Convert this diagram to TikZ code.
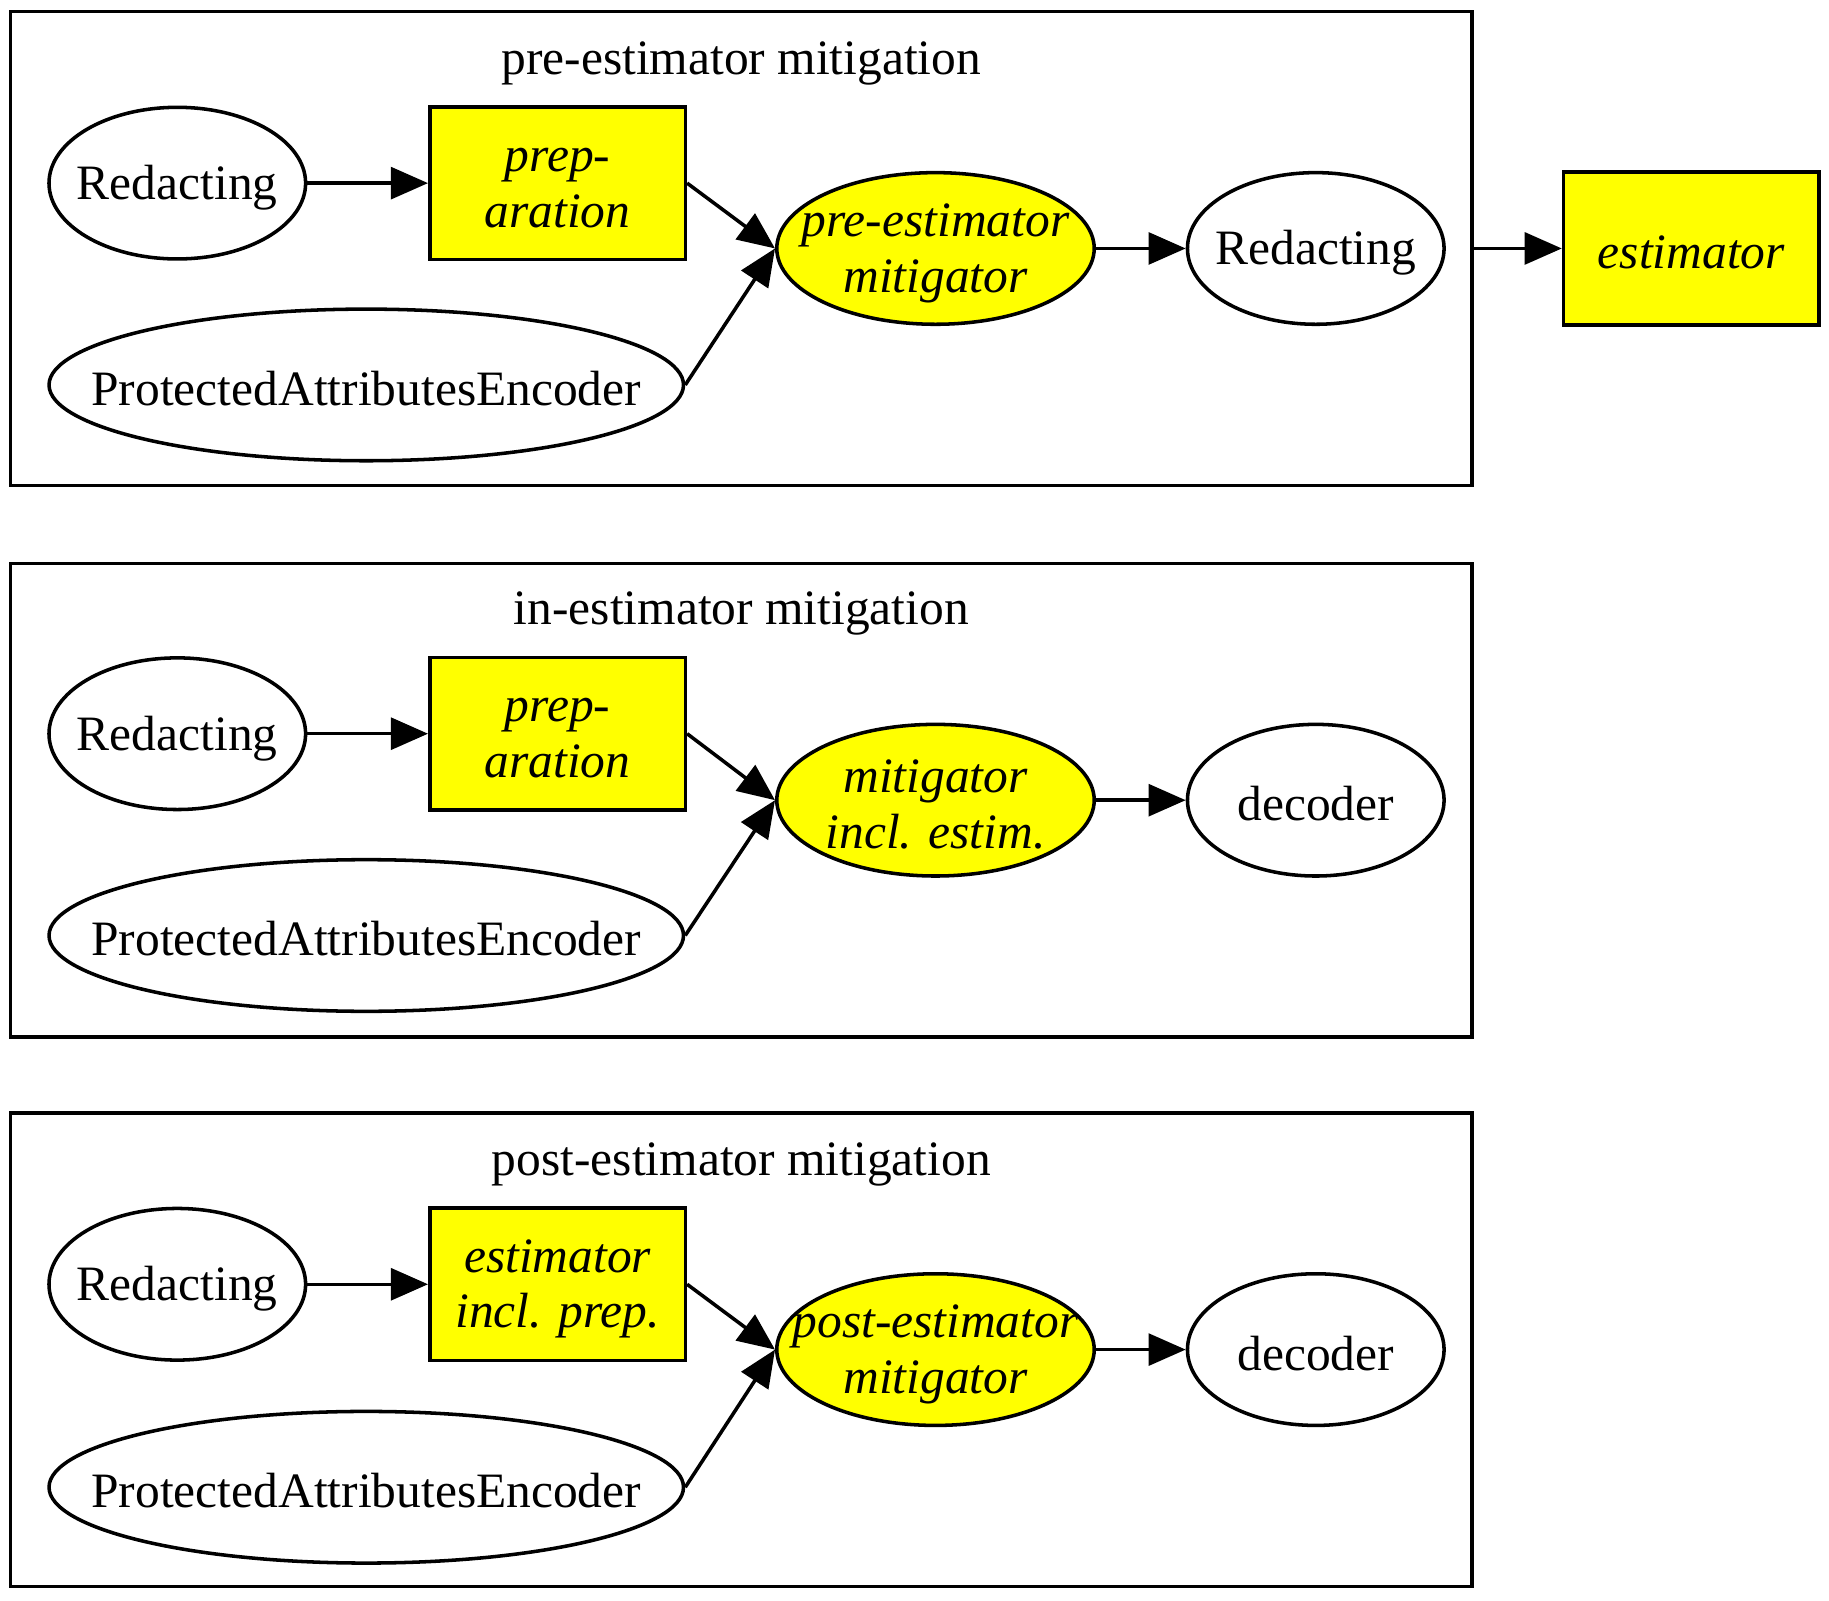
\documentclass[tikz,border=0pt]{standalone}
\usepackage{fontspec}
\setmainfont{Liberation Serif}
\usetikzlibrary{shapes.geometric,arrows.meta}
\definecolor{gvyellow}{RGB}{255,255,0}

\begin{document}
\begin{tikzpicture}[x=0.33pt,y=0.33pt,yscale=-1,xscale=1,
  font=\fontsize{14}{15.8}\selectfont,
  every node/.style={line width=1pt, inner sep=0pt},
  cluster/.style={draw, rectangle, minimum width=413.5pt, minimum height=134pt},
  oval/.style={draw, ellipse, minimum width=72.6pt, minimum height=42.9pt},
  wideoval/.style={oval, minimum width=179.5pt},
  mitig/.style={oval, fill=gvyellow, minimum width=89.8pt},
  stepbox/.style={draw, rectangle, fill=gvyellow, minimum width=72.3pt, minimum height=43.2pt},
  itxt/.style={align=center, font=\fontsize{14}{15.8}\selectfont\itshape},
  edge/.style={-{Triangle[length=10.5pt,width=9pt]}, line width=1pt}]

\useasboundingbox (0,0) rectangle (1568,1372);

% pre-estimator mitigation
\node[cluster] (clpre) at (635.5,213) {};
\node (tpre) at (635.5,54) {pre-estimator mitigation};
\node[oval] (redpre) at (152,157) {};
\node (redpre-t) at (152,161) {Redacting};
\node[stepbox] (preppre) at (478,157) {};
\node[itxt] (preppre-t) at (478,161) {prep-\\aration};
\node[wideoval] (paepre) at (314,330) {};
\node (paepre-t) at (314,333) {ProtectedAttributesEncoder};
\node[mitig] (mitpre) at (802,213) {};
\node[itxt] (mitpre-t) at (802,217) {pre-estimator\\mitigator};
\node[oval] (redpost) at (1128,213) {};
\node (redpost-t) at (1128,217) {Redacting};
\node[stepbox] (est) at (1450,213) {};
\node[itxt] (est-t) at (1450,216) {estimator};

\draw[edge] (redpre) -- (preppre);
\draw[edge] (preppre.east) -- (mitpre.west);
\draw[edge] (paepre.east) -- (mitpre.west);
\draw[edge] (mitpre) -- (redpost);
\draw[edge] (clpre.east |- est.west) -- (est.west);

% in-estimator mitigation
\node[cluster] (clin) at (635.5,686) {};
\node (tin) at (635.5,526) {in-estimator mitigation};
\node[oval] (redin) at (152,629) {};
\node (redin-t) at (152,633) {Redacting};
\node[stepbox] (prepin) at (478,629) {};
\node[itxt] (prepin-t) at (478,633) {prep-\\aration};
\node[wideoval] (paein) at (314,802) {};
\node (paein-t) at (314,805) {ProtectedAttributesEncoder};
\node[mitig] (mitin) at (802,686) {};
\node[itxt] (mitin-t) at (802,690) {mitigator\\incl. estim.};
\node[oval] (decin) at (1128,686) {};
\node (decin-t) at (1128,689) {decoder};

\draw[edge] (redin) -- (prepin);
\draw[edge] (prepin.east) -- (mitin.west);
\draw[edge] (paein.east) -- (mitin.west);
\draw[edge] (mitin) -- (decin);

% post-estimator mitigation
\node[cluster] (clpost) at (635.5,1157) {};
\node (tpost) at (635.5,998) {post-estimator mitigation};
\node[oval] (redpo) at (152,1101) {};
\node (redpo-t) at (152,1105) {Redacting};
\node[stepbox] (estpo) at (478,1101) {};
\node[itxt] (estpo-t) at (478,1105) {estimator\\incl. prep.};
\node[wideoval] (paepo) at (314,1275) {};
\node (paepo-t) at (314,1278) {ProtectedAttributesEncoder};
\node[mitig] (mitpo) at (802,1157) {};
\node[itxt] (mitpo-t) at (802,1161) {post-estimator\\mitigator};
\node[oval] (decpo) at (1128,1157) {};
\node (decpo-t) at (1128,1160) {decoder};

\draw[edge] (redpo) -- (estpo);
\draw[edge] (estpo.east) -- (mitpo.west);
\draw[edge] (paepo.east) -- (mitpo.west);
\draw[edge] (mitpo) -- (decpo);

\end{tikzpicture}
\end{document}
